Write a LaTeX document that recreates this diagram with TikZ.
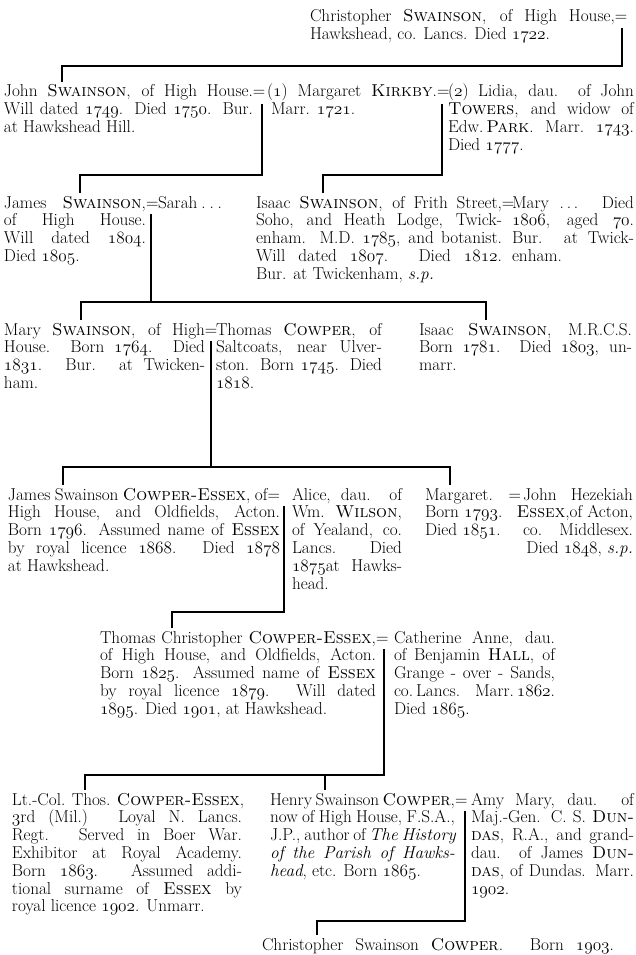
\documentclass[tikz,border=0pt]{standalone}
\newcommand\os[1]{{\usefont{OML}{cmm}{m}{it}#1}}
\newcommand\jx[1]{\hbox to\hsize{#1}}
\newcommand\lx[1]{\hbox to\hsize{#1\hfil}}
\newcommand\blkbox[2]{\vtop{\hsize=#1\relax #2}}
\newcommand\eqs{\rlap{=}}
\tikzset{
  blk/.style={anchor=base west, inner sep=0pt, outer sep=0pt, font=\fontsize{17.2}{17.8}\selectfont},
  conn/.style={line width=2.2pt, line join=miter},
}
\begin{document}
\begin{tikzpicture}[x=1pt,y=-1pt]
\useasboundingbox[fill=white] (0,0) rectangle (635,955);

% generation 0
\node[blk] (chris) at (310,22) {\blkbox{305pt}{\jx{Christopher \textsc{Swainson}, of High House,\eqs}\lx{Hawkshead, co. Lancs. Died \os{1722}.}}};

% generation 1
\node[blk] (john) at (4,97) {\blkbox{249pt}{\jx{John \textsc{Swainson}, of High House.\eqs}\jx{Will dated \os{1749}. Died \os{1750}. Bur.}\lx{at Hawkshead Hill.}}};
\node[blk] (marg) at (267,97) {\blkbox{170pt}{\jx{(\os{1}) Margaret \textsc{Kirkby}.\eqs}\lx{\hspace{4pt}Marr. \os{1721}.}}};
\node[blk] (lidia) at (448,97) {\blkbox{186pt}{\jx{(\os{2}) Lidia, dau. of John}\jx{\textsc{Towers}, and widow of}\jx{Edw.\,\textsc{Park}. Marr. \os{1743}.}\lx{Died \os{1777}.}}};

% generation 2
\node[blk] (james) at (4,208) {\blkbox{142pt}{\jx{James \textsc{Swainson},\eqs}\jx{of High House.}\jx{Will dated \os{1804}.}\lx{Died \os{1805}.}}};
\node[blk] (sarah) at (158,208) {\blkbox{64pt}{\jx{Sarah\hfill.\hfill.\hfill.}}};
\node[blk] (isaac) at (256,208) {\blkbox{246pt}{\jx{Isaac \textsc{Swainson}, of Frith Street,\eqs}\jx{Soho, and Heath Lodge, Twick-}\jx{enham. M.D. \os{1785}, and botanist.}\jx{Will dated \os{1807}. Died \os{1812}.}\lx{Bur. at Twickenham, \textit{s.p.}}}};
\node[blk] (marya) at (512,208) {\blkbox{122pt}{\jx{Mary .\,.\,. Died}\jx{\os{1806}, aged \os{70}.}\jx{Bur. at Twick-}\lx{enham.}}};

% generation 3
\node[blk] (marys) at (4,335) {\blkbox{201pt}{\jx{Mary \textsc{Swainson}, of High\eqs}\jx{House. Born \os{1764}. Died}\jx{\os{1831}. Bur. at Twicken-}\lx{ham.}}};
\node[blk] (thomc) at (216,335) {\blkbox{166pt}{\jx{Thomas \textsc{Cowper}, of}\jx{Saltcoats, near Ulver-}\jx{ston. Born \os{1745}. Died}\lx{\os{1818}.}}};
\node[blk] (isaacm) at (419,335) {\blkbox{213pt}{\jx{Isaac \textsc{Swainson}, M.R.C.S.}\jx{Born \os{1781}. Died \os{1803}, un-}\lx{marr.}}};

% generation 4
\node[blk] (jsce) at (8,500) {\blkbox{272pt}{\jx{James Swainson \textsc{Cowper-Essex}, of=}\jx{High House, and Oldfields, Acton.}\jx{Born \os{1796}. Assumed name of \textsc{Essex}}\jx{by royal licence \os{1868}. Died \os{1878}}\lx{at Hawkshead.}}};
\node[blk] (alice) at (292,500) {\blkbox{110pt}{\jx{Alice, dau. of}\jx{Wm. \textsc{Wilson},}\jx{of Yealand, co.}\jx{Lancs. Died}\jx{\os{1875}at Hawks-}\lx{head.}}};
\node[blk] (margt) at (425,500) {\blkbox{96pt}{\jx{Margaret.\hfill=}\lx{Born \os{1793}.}\lx{Died \os{1851}.}}};
\node[blk] (johnh) at (523,500) {\blkbox{110pt}{\jx{John Hezekiah}\jx{\hss\textsc{Essex},of Acton,}\jx{co. Middlesex.}\jx{\hfill Died \os{1848}, \textit{s.p.}}}};

% generation 5
\node[blk] (thch) at (100,643) {\blkbox{276pt}{\jx{Thomas Christopher \textsc{Cowper-Essex},\eqs}\jx{of High House, and Oldfields, Acton.}\jx{Born \os{1825}. Assumed name of \textsc{Essex}}\jx{by royal licence \os{1879}. Will dated}\lx{\os{1895}. Died \os{1901}, at Hawkshead.}}};
\node[blk] (cath) at (394,643) {\blkbox{161pt}{\jx{Catherine Anne, dau.}\jx{of Benjamin \textsc{Hall}, of}\jx{Grange - over - Sands,}\jx{co.\,Lancs. Marr.\,\os{1862}.}\lx{Died \os{1865}.}}};

% generation 6
\node[blk] (ltcol) at (12,805) {\blkbox{230pt}{\jx{Lt.-Col. Thos. \textsc{Cowper-Essex},}\jx{\os{3}rd (Mil.) Loyal N. Lancs.}\jx{Regt. Served in Boer War.}\jx{Exhibitor at Royal Academy.}\jx{Born \os{1863}. Assumed addi-}\jx{tional surname of \textsc{Essex} by}\lx{royal licence \os{1902}. Unmarr.}}};
\node[blk] (henry) at (270,805) {\blkbox{185pt}{\jx{Henry Swainson \textsc{Cowper},\eqs}\jx{now of High House, F.S.A.,}\jx{J.P., author of \textit{The History}}\jx{\textit{of the Parish of Hawks-}}\lx{\textit{head}, etc. Born \os{1865}.}}};
\node[blk] (amy) at (471,805) {\blkbox{163pt}{\jx{Amy Mary, dau. of}\jx{Maj.-Gen. C. S. \textsc{Dun-}}\jx{\textsc{das}, R.A., and grand-}\jx{dau. of James \textsc{Dun-}}\jx{\textsc{das}, of Dundas. Marr.}\lx{\os{1902}.}}};

% generation 7
\node[blk] (csc) at (262,950) {\blkbox{352pt}{\jx{Christopher Swainson \textsc{Cowper}. Born \os{1903}.}}};

% connectors
\coordinate (m0) at (622,28);  \coordinate (h0) at (62,66);
\draw[conn,shorten >=3pt] (m0) |- (h0) -- (h0 |- john.north);

\coordinate (e1) at (262,104); \coordinate (k1) at (80,175);
\draw[conn,shorten >=3pt] (e1) |- (k1) -- (k1 |- james.north);
\coordinate (e2) at (442,104); \coordinate (k2) at (323,175);
\draw[conn,shorten >=3pt] (e2) |- (k2) -- (k2 |- isaac.north);

\coordinate (e3) at (151,214); \coordinate (k3) at (81,302); \coordinate (k4) at (486,302);
\draw[conn] (e3) -- (e3 |- k3);
\draw[conn,shorten <=3pt,shorten >=3pt] (k3 |- marys.north) -- (k3) -- (k4) -- (k4 |- isaacm.north);

\coordinate (e4) at (211,341); \coordinate (k5) at (63,467); \coordinate (k6) at (450,467);
\draw[conn] (e4) -- (e4 |- k5);
\draw[conn,shorten <=3pt,shorten >=3pt] (k5 |- jsce.north) -- (k5) -- (k6) -- (k6 |- margt.north);

\coordinate (e5) at (284,506); \coordinate (k7) at (172,612);
\draw[conn,shorten >=3pt] (e5) |- (k7) -- (k7 |- thch.north);

\coordinate (e6) at (384,649); \coordinate (k8) at (85,775); \coordinate (k9) at (325,775);
\draw[conn,shorten >=3pt] (e6) |- (k8) -- (k8 |- ltcol.north);
\draw[conn,shorten >=3pt] (k9) -- (k9 |- henry.north);

\coordinate (e7) at (465,811); \coordinate (k10) at (317,921);
\draw[conn,shorten >=3pt] (e7) |- (k10) -- (k10 |- csc.north);
\end{tikzpicture}
\end{document}
